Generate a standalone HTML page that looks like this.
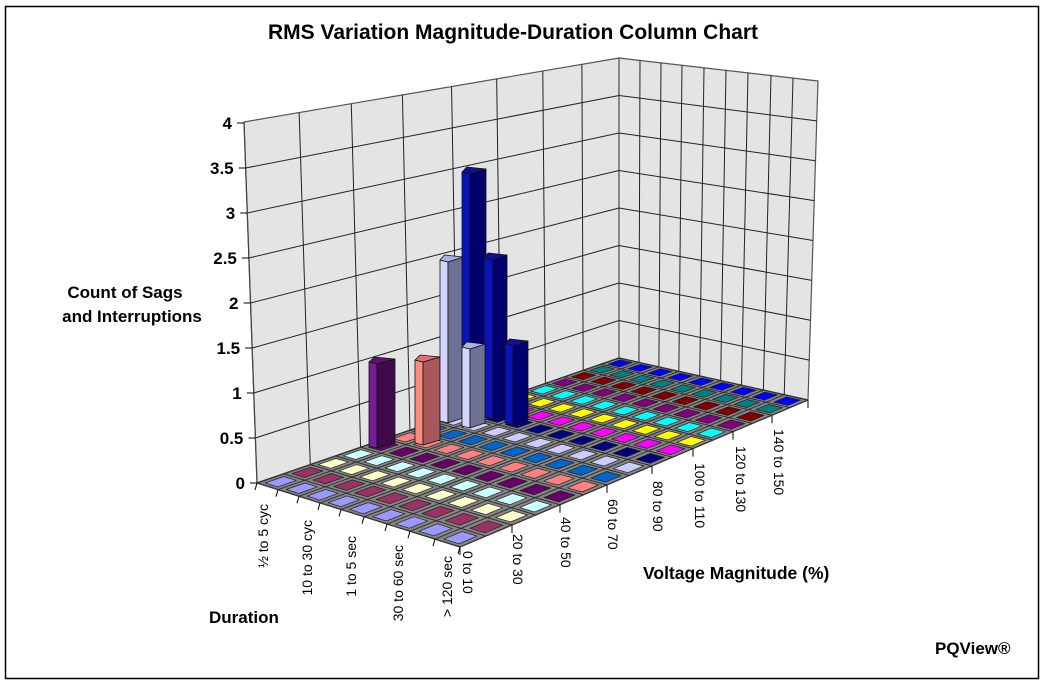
<!DOCTYPE html>
<html><head><meta charset="utf-8"><style>
html,body{margin:0;padding:0;background:#fff;width:1046px;height:684px;overflow:hidden}
svg text{font-family:"Liberation Sans",Arial,sans-serif;fill:#000}
</style></head><body>
<svg id="s" width="1046" height="684" viewBox="0 0 1046 684" xmlns="http://www.w3.org/2000/svg">
<rect x="5.5" y="6.5" width="1033" height="672" fill="#fff" stroke="#000" stroke-width="1.5"/>
<text x="513" y="39" font-size="21" font-weight="bold" text-anchor="middle">RMS Variation Magnitude-Duration Column Chart</text>
<text x="125" y="298" font-size="17" font-weight="bold" text-anchor="middle">Count of Sags</text>
<text x="132" y="322" font-size="17" font-weight="bold" text-anchor="middle">and Interruptions</text>
<text x="209" y="623" font-size="17" font-weight="bold">Duration</text>
<text x="643" y="579" font-size="17.5" font-weight="bold">Voltage Magnitude (%)</text>
<text x="935" y="654" font-size="17" font-weight="bold">PQView®</text>
<g id="g"></g>
</svg>
<script>
const g=document.getElementById('g');const NS='http://www.w3.org/2000/svg';
function el(t,a,txt){const e=document.createElementNS(NS,t);for(const k in a)e.setAttribute(k,a[k]);if(txt!=null)e.textContent=txt;g.appendChild(e);return e;}
function poly(pts,fill,stroke,sw){return el('polygon',{points:pts.map(p=>p[0].toFixed(1)+','+p[1].toFixed(1)).join(' '),fill:fill,stroke:stroke||'none','stroke-width':sw||1,'stroke-linejoin':'round'});}
function line(a,b,c,w){el('line',{x1:a[0],y1:a[1],x2:b[0],y2:b[1],stroke:c||'#000','stroke-width':w||1});}
function lerp(a,b,t){return [a[0]+(b[0]-a[0])*t,a[1]+(b[1]-a[1])*t];}
const L=[257,483],F=[460,547],B=[619,358],R=[808,400];
const LT=[244,122],BT=[619,58],RT=[818,81];
const lwX=[245,300,352,403,452,497,543,582,619];const fmL8=lwX.map(x=>(x-245)/374);
const frX=[460,512,560,607,652,693,733,772,808];const fmF8=frX.map(x=>(x-460)/348);
const rwX=[619,640,661,682,704,726,748,771,793,818];const fdB=rwX.map(x=>(x-619)/199);
const lfX=[257,278,299,320,341,364,387,410,435,460];const fdF=lfX.map(x=>(x-257)/203);
function fr8(arr,m){const k=m/2;const i=Math.min(7,Math.floor(k));return arr[i]+(arr[i+1]-arr[i])*(k-i);}
function fr9(arr,d){const i=Math.min(8,Math.floor(d));return arr[i]+(arr[i+1]-arr[i])*(d-i);}
function P(m,d){
 const tl=fr8(fmL8,m),tf=fr8(fmF8,m);const a=lerp(L,B,tl),b=lerp(F,R,tf);
 const t=fr9(fdF,d)*(1-m/16)+fr9(fdB,d)*(m/16);return lerp(a,b,t);}
poly([L,LT,BT,B],'#e4e4e4','#555',1.2);
poly([B,BT,RT,R],'#e4e4e4','#555',1.2);
for(let k=1;k<8;k++){const t=fmL8[k];line(lerp(L,B,t),lerp(LT,BT,t),'#222',1);}
for(let k=1;k<9;k++){const t=fdB[k];line(lerp(B,R,t),lerp(BT,RT,t),'#222',1);}
for(let v=0.5;v<4;v+=0.5){const lw=[L[0]+(LT[0]-L[0])*v/4,483-v*90];const bw=[619,358-v*75];const rw=[808+10*v/4,400-v*79.75];
 line(lw,bw,'#222',1);line(bw,rw,'#222',1);}
line(L,LT,'#444',1.2);
const yl=['0','0.5','1','1.5','2','2.5','3','3.5','4'];
for(let k=0;k<=8;k++){const v=k/2;const y=483-v*90;const x=L[0]+(LT[0]-L[0])*v/4;line([x-7,y],[x,y],'#000',1);
 el('text',{x:x-12,y:y+6,'font-size':17,'font-weight':'bold','text-anchor':'end'},yl[k]);}
poly([L,F,R,B],'#858585','#333',1);
for(let m=1;m<16;m++)line(P(m,0),P(m,9),'#2a2a2a',0.9);
for(let d=1;d<9;d++)line(P(0,d),P(16,d),'#2a2a2a',0.9);
poly([L,F,R,B],'none','#333',1.2);
for(let d=0;d<=9;d++){const p=P(0,d);line(p,[p[0]-2,p[1]+7],'#000',1);}
for(let k=0;k<=8;k++){const p=P(k*2,9);line(p,[p[0],p[1]+8],'#000',1);}
const cols=['#9999FF','#993366','#FFFFCC','#CCFFFF','#660066','#FF8080','#0066CC','#CCCCFF','#000080','#FF00FF','#FFFF00','#00FFFF','#800080','#800000','#008080','#0000FF'];
for(let m=0;m<16;m++)for(let d=0;d<9;d++){
 const a=P(m+0.15,d+0.2),b=P(m+0.15,d+0.8),c=P(m+0.85,d+0.8),e=P(m+0.85,d+0.2);
 poly([a,b,c,e],cols[m],'#222',0.7);}
function bar(xl,xm,xr,t,b,cf,cs,ct){
 poly([[xl,t+5],[xm,t+7],[xm,b],[xl,b-2]],cf,'#111',0.8);
 poly([[xm,t+7],[xr,t+2],[xr,b-5],[xm,b]],cs,'#111',0.8);
 poly([[xl,t+5],[xl+ (xr-xm)*0.3,t],[xr,t+2],[xm,t+7]],ct,'#111',0.8);
}
bar(369,377,395,357,448,'#7a1aa0','#3e0a4a','#5a1470');
bar(415,423,440,355,445,'#ff8a80','#a8585a','#e07070');
bar(440,448,463,255,423,'#d4d4ff','#6e7096','#b0b0e0');
bar(462,470,486,167,417,'#0a14b8','#00006e','#101090');
bar(484,493,507,253,419,'#0a14b8','#00006e','#101090');
bar(462,470,485,342,428,'#d4d4ff','#6e7096','#b0b0e0');
bar(505,513,528,339,425,'#0a14b8','#00006e','#101090');
const dl=[['½ to 5 cyc',268,504],['10 to 30 cyc',312,520],['1 to 5 sec',356,536],['30 to 60 sec',403,545],['> 120 sec',452,556]];
dl.forEach(([s,x,y])=>{el('text',{x:0,y:0,'font-size':14,'text-anchor':'end',transform:`translate(${x},${y}) rotate(-90)`},s);});
const ml=[['0 to 10',463,551],['20 to 30',513,534],['40 to 50',561,517],['60 to 70',608,499],['80 to 90',653,481],['100 to 110',695,463],['120 to 130',736,446],['140 to 150',774,429]];
ml.forEach(([s,x,y])=>{el('text',{x:0,y:0,'font-size':14,'text-anchor':'start',transform:`translate(${x},${y}) rotate(90)`},s);});
</script>
</body></html>
